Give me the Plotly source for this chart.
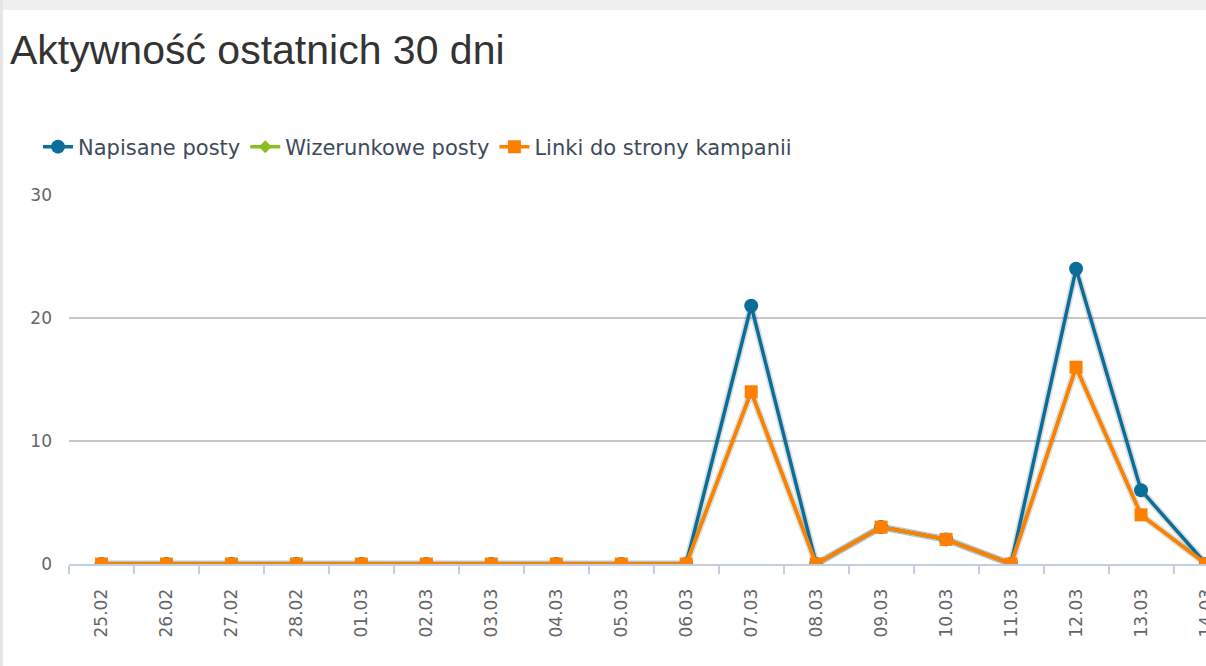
import plotly.graph_objects as go

dates = ["25.02", "26.02", "27.02", "28.02", "01.03", "02.03", "03.03", "04.03",
         "05.03", "06.03", "07.03", "08.03", "09.03", "10.03", "11.03", "12.03",
         "13.03", "14.03"]
napisane = [0, 0, 0, 0, 0, 0, 0, 0, 0, 0, 21, 0, 3, 2, 0, 24, 6, 0]
wizerunkowe = [0, 0, 0, 0, 0, 0, 0, 0, 0, 0, 14, 0, 3, 2, 0, 16, 4, 0]
linki = [0, 0, 0, 0, 0, 0, 0, 0, 0, 0, 14, 0, 3, 2, 0, 16, 4, 0]

BLUE = "#0b6e99"
GREEN = "#8bbc21"
ORANGE = "#ff7f00"

fig = go.Figure()
# soft shadows under the lines
for vals in (napisane, linki):
    fig.add_trace(go.Scatter(x=dates, y=vals, mode="lines", showlegend=False, hoverinfo="skip",
                             line=dict(color="rgba(0,0,0,0.13)", width=7)))
fig.add_trace(go.Scatter(x=dates, y=napisane, name="Napisane posty", mode="lines+markers",
                         line=dict(color=BLUE, width=3.5),
                         marker=dict(symbol="circle", size=14, color=BLUE)))
fig.add_trace(go.Scatter(x=dates, y=wizerunkowe, name="Wizerunkowe posty", mode="lines+markers",
                         line=dict(color=GREEN, width=3.5),
                         marker=dict(symbol="diamond", size=10, color=GREEN)))
fig.add_trace(go.Scatter(x=dates, y=linki, name="Linki do strony kampanii", mode="lines+markers",
                         line=dict(color=ORANGE, width=3.5),
                         marker=dict(symbol="square", size=13, color=ORANGE)))

fig.update_layout(
    width=1206, height=666,
    margin=dict(l=69, r=0, t=195, b=102),
    paper_bgcolor="white", plot_bgcolor="white",
    title=dict(text="Aktywność ostatnich 30 dni", x=10/1206, xanchor="left", xref="container",
               y=1-50/666, yanchor="middle", yref="container",
               font=dict(family="Liberation Sans, Arial", size=41, color="#333333")),
    legend=dict(orientation="h", xref="container", yref="container",
                x=38/1206, xanchor="left", y=1-147/666, yanchor="middle",
                font=dict(family="DejaVu Sans", size=21, color="#3e4a5a"),
                itemwidth=30, tracegroupgap=0),
    showlegend=True,
    xaxis=dict(type="category", range=[-0.5, 17.0], tickangle=-90, automargin=False,
               tickson="boundaries", ticks="outside", ticklen=8, tickcolor="#c0d0e0",
               tickwidth=2,
               showline=True, linecolor="#c0d0e0", linewidth=2, showgrid=False,
               tickfont=dict(family="DejaVu Sans", size=17, color="#666666"),
               ticklabelstandoff=16),
    yaxis=dict(range=[0, 30], tickvals=[0, 10, 20, 30], showgrid=True, gridcolor="#c8c8c8",
               gridwidth=1.5, zeroline=False, showline=False, ticks="", automargin=False,
               tickfont=dict(family="DejaVu Sans", size=17, color="#666666"),
               ticklabelstandoff=16),
    shapes=[
        dict(type="rect", xref="paper", yref="paper", x0=-69/1137, x1=1, y0=1+(195-10)/369, y1=1+195/369,
             fillcolor="#efefef", line=dict(width=0), layer="below"),
        dict(type="rect", xref="paper", yref="paper", x0=-69/1137, x1=-66/1137, y0=-102/369, y1=1+195/369,
             fillcolor="#e6e6e6", line=dict(width=0), layer="below"),
    ],
)

fig.write_html("out.html", config={"displayModeBar": False},
               post_script="document.body.style.margin='0';")
